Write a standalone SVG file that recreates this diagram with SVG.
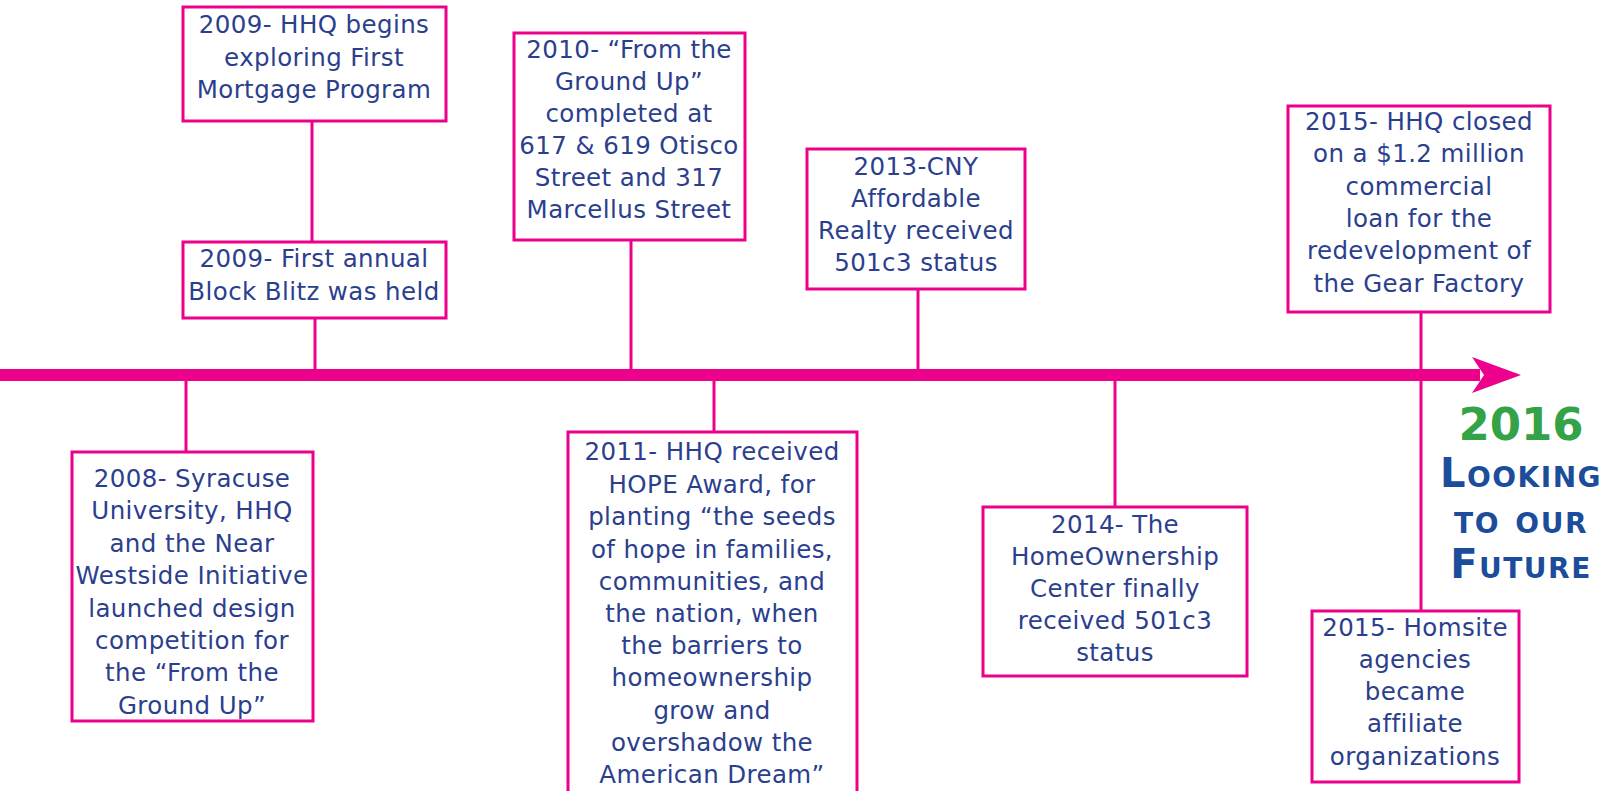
<svg xmlns="http://www.w3.org/2000/svg" width="1619" height="791" viewBox="0 0 1619 791">
<style>
.box{fill:#fff;stroke:#EC008C;stroke-width:3}
.con line{stroke:#EC008C;stroke-width:3}
.t{font-family:"DejaVu Sans","Liberation Sans",sans-serif;font-size:24.5px;letter-spacing:0.4px;fill:#2B3F8E;text-anchor:middle;dominant-baseline:central}
.yr{font-family:"DejaVu Sans","Liberation Sans",sans-serif;font-weight:bold;font-size:45px;fill:#34A348;text-anchor:middle;dominant-baseline:central}
.lk{font-family:"DejaVu Sans","Liberation Sans",sans-serif;font-weight:bold;font-size:40px;letter-spacing:1.5px;fill:#1B4D9B;text-anchor:middle;dominant-baseline:central;font-variant:small-caps}
</style>
<rect width="1619" height="791" fill="#fff"/>
<g id="timeline">
<rect x="0" y="369" width="1480" height="12" fill="#EC008C"/>
<path d="M1472 357 L1521 375 L1472 393 L1484 375 Z" fill="#EC008C"/>
</g>
<g id="connectors" class="con">
<line x1="312" y1="121" x2="312" y2="242"/>
<line x1="315" y1="318" x2="315" y2="369"/>
<line x1="631" y1="240" x2="631" y2="369"/>
<line x1="918" y1="289" x2="918" y2="369"/>
<line x1="1421" y1="312" x2="1421" y2="611"/>
<line x1="186" y1="381" x2="186" y2="452"/>
<line x1="714" y1="381" x2="714" y2="432"/>
<line x1="1115" y1="381" x2="1115" y2="507"/>
</g>
<g id="n2009a">
<rect class="box" x="183" y="7" width="263" height="114"/>
<text class="t" x="314" y="24">2009- HHQ begins</text>
<text class="t" x="314" y="57">exploring First</text>
<text class="t" x="314" y="89">Mortgage Program</text>
</g>
<g id="n2009b">
<rect class="box" x="183" y="242" width="263" height="76"/>
<text class="t" x="314" y="258">2009- First annual</text>
<text class="t" x="314" y="291">Block Blitz was held</text>
</g>
<g id="n2010">
<rect class="box" x="514" y="33" width="231" height="207"/>
<text class="t" x="629" y="49">2010- “From the</text>
<text class="t" x="629" y="81">Ground Up”</text>
<text class="t" x="629" y="113">completed at</text>
<text class="t" x="629" y="145">617 &amp; 619 Otisco</text>
<text class="t" x="629" y="177">Street and 317</text>
<text class="t" x="629" y="209">Marcellus Street</text>
</g>
<g id="n2013">
<rect class="box" x="807" y="149" width="218" height="140"/>
<text class="t" x="916" y="166">2013-CNY</text>
<text class="t" x="916" y="198">Affordable</text>
<text class="t" x="916" y="230">Realty received</text>
<text class="t" x="916" y="262">501c3 status</text>
</g>
<g id="n2015a">
<rect class="box" x="1288" y="106" width="262" height="206"/>
<text class="t" x="1419" y="121">2015- HHQ closed</text>
<text class="t" x="1419" y="153">on a $1.2 million</text>
<text class="t" x="1419" y="186">commercial</text>
<text class="t" x="1419" y="218">loan for the</text>
<text class="t" x="1419" y="250">redevelopment of</text>
<text class="t" x="1419" y="283">the Gear Factory</text>
</g>
<g id="n2015b">
<rect class="box" x="1312" y="611" width="207" height="171"/>
<text class="t" x="1415" y="627">2015- Homsite</text>
<text class="t" x="1415" y="659">agencies</text>
<text class="t" x="1415" y="691">became</text>
<text class="t" x="1415" y="723">affiliate</text>
<text class="t" x="1415" y="756">organizations</text>
</g>
<g id="n2008">
<rect class="box" x="72" y="452" width="241" height="269"/>
<text class="t" x="192" y="478">2008- Syracuse</text>
<text class="t" x="192" y="510">University, HHQ</text>
<text class="t" x="192" y="543">and the Near</text>
<text class="t" x="192" y="575">Westside Initiative</text>
<text class="t" x="192" y="608">launched design</text>
<text class="t" x="192" y="640">competition for</text>
<text class="t" x="192" y="672">the “From the</text>
<text class="t" x="192" y="705">Ground Up”</text>
</g>
<g id="n2011">
<rect class="box" x="568" y="432" width="289" height="380"/>
<text class="t" x="712" y="451">2011- HHQ received</text>
<text class="t" x="712" y="484">HOPE Award, for</text>
<text class="t" x="712" y="516">planting “the seeds</text>
<text class="t" x="712" y="549">of hope in families,</text>
<text class="t" x="712" y="581">communities, and</text>
<text class="t" x="712" y="613">the nation, when</text>
<text class="t" x="712" y="645">the barriers to</text>
<text class="t" x="712" y="677">homeownership</text>
<text class="t" x="712" y="710">grow and</text>
<text class="t" x="712" y="742">overshadow the</text>
<text class="t" x="712" y="774">American Dream”</text>
</g>
<g id="n2014">
<rect class="box" x="983" y="507" width="264" height="169"/>
<text class="t" x="1115" y="524">2014- The</text>
<text class="t" x="1115" y="556">HomeOwnership</text>
<text class="t" x="1115" y="588">Center finally</text>
<text class="t" x="1115" y="620">received 501c3</text>
<text class="t" x="1115" y="652">status</text>
</g>
<g id="future">
<text class="yr" x="1521" y="424">2016</text>
<text class="lk" x="1521" y="473">Looking</text>
<text class="lk" x="1521" y="519">to our</text>
<text class="lk" x="1521" y="564">Future</text>
</g>
</svg>
